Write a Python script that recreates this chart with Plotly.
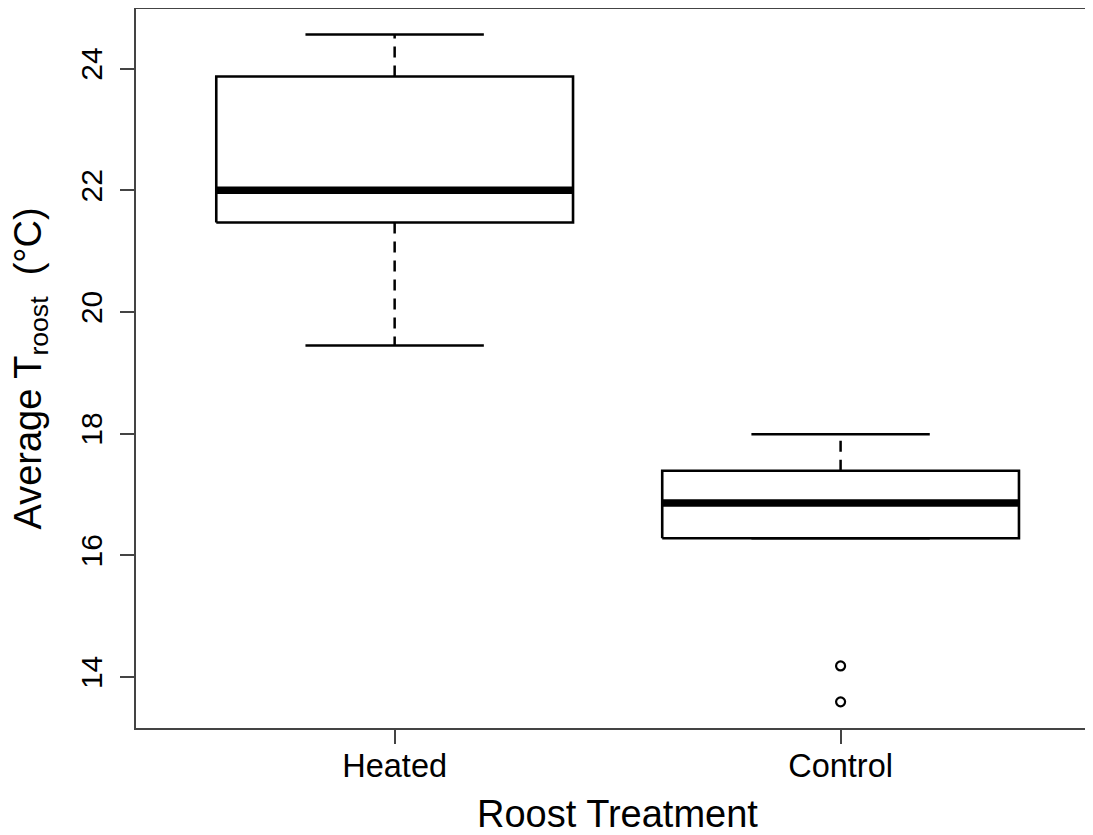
import plotly.graph_objects as go

# ---- data ----
categories = ["Heated", "Control"]
whisker_low = [19.45, 16.28]
q1 = [21.47, 16.28]
median = [22.00, 16.86]
q3 = [23.87, 17.39]
whisker_high = [24.56, 17.99]
outlier_group = ["Control", "Control"]
outlier_values = [14.18, 13.59]

y_ticks = [14, 16, 18, 20, 22, 24]

positions = {c: i + 1 for i, c in enumerate(categories)}
BOX_HALF = 0.4
CAP_HALF = 0.2

box_x, box_y = [], []
med_x, med_y = [], []
wh_x, wh_y = [], []
cap_x, cap_y = [], []
for c, lo, a, m, b, hi in zip(categories, whisker_low, q1, median, q3, whisker_high):
    p = positions[c]
    box_x += [p - BOX_HALF, p + BOX_HALF, p + BOX_HALF, p - BOX_HALF, p - BOX_HALF, None]
    box_y += [a, a, b, b, a, None]
    med_x += [p - BOX_HALF, p + BOX_HALF, None]
    med_y += [m, m, None]
    wh_x += [p, p, None, p, p, None]
    wh_y += [b, hi, None, a, lo, None]
    cap_x += [p - CAP_HALF, p + CAP_HALF, None, p - CAP_HALF, p + CAP_HALF, None]
    cap_y += [hi, hi, None, lo, lo, None]

fig = go.Figure()
fig.add_trace(go.Scatter(x=wh_x, y=wh_y, mode="lines",
                         line=dict(color="black", width=2.5, dash="11px,8px"),
                         hoverinfo="skip"))
fig.add_trace(go.Scatter(x=cap_x, y=cap_y, mode="lines",
                         line=dict(color="black", width=2.5), hoverinfo="skip"))
fig.add_trace(go.Scatter(x=box_x, y=box_y, mode="lines",
                         line=dict(color="black", width=2.6)))
fig.add_trace(go.Scatter(x=med_x, y=med_y, mode="lines",
                         line=dict(color="black", width=7.5)))
fig.add_trace(go.Scatter(x=[positions[g] for g in outlier_group], y=outlier_values,
                         mode="markers",
                         marker=dict(symbol="circle-open", size=9, color="black",
                                     line=dict(width=2.2, color="black"))))

font_family = "Liberation Sans, Arial, sans-serif"
mid_x = (min(positions.values()) + max(positions.values())) / 2
fig.update_layout(
    width=1085, height=827,
    margin=dict(l=128, r=0, t=1, b=107),
    paper_bgcolor="white", plot_bgcolor="white",
    showlegend=False,
    font=dict(family=font_family, color="black"),
    xaxis=dict(
        range=[0.42, 2.566], automargin=False,
        tickmode="array", tickvals=[positions[c] for c in categories], ticktext=categories,
        showline=True, linecolor="#444", linewidth=1.8, mirror=True,
        ticks="outside", ticklen=14, tickwidth=1.5, tickcolor="#444",
        ticklabelstandoff=-6,
        showgrid=False, zeroline=False,
        tickfont=dict(size=32.5, family=font_family),
    ),
    yaxis=dict(
        range=[13.16, 24.98], automargin=False,
        tickmode="array", tickvals=y_ticks, ticktext=[str(t) for t in y_ticks],
        tickangle=-90,
        showline=True, linecolor="#444", linewidth=1.8,
        ticks="outside", ticklen=14, tickwidth=1.5, tickcolor="#444",
        ticklabelstandoff=6,
        showgrid=False, zeroline=False,
        tickfont=dict(size=30, family=font_family),
    ),
    annotations=[
        dict(
            text="Average T<sub>roost</sub>  (°C)",
            xref="paper", yref="paper", x=0, y=0.5,
            xanchor="center", yanchor="middle", xshift=-106,
            textangle=-90, showarrow=False,
            font=dict(size=38, family=font_family, color="black"),
        ),
        dict(
            text="Roost Treatment",
            xref="x", yref="paper", x=mid_x, y=0,
            xanchor="center", yanchor="middle", yshift=-86,
            showarrow=False,
            font=dict(size=38, family=font_family, color="black"),
        ),
    ],
)

fig.write_html("out.html")
